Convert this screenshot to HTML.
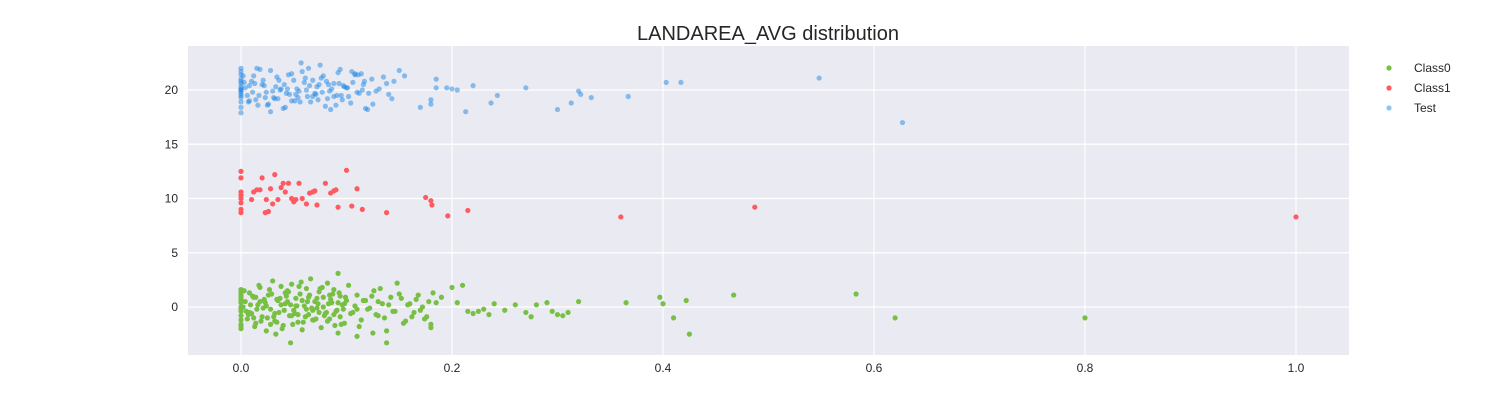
<!DOCTYPE html>
<html><head><meta charset="utf-8"><style>
body{margin:0;background:#fff;font-family:"Liberation Sans",sans-serif}
svg text{font-family:"Liberation Sans",sans-serif}
</style></head><body>
<svg id="c" width="1500" height="400">
<rect x="188" y="46" width="1161" height="309" fill="#eaeaf2"/>
<g id="grid"></g><g id="pts"></g><g id="ticks"></g>
<text x="768" y="40" text-anchor="middle" font-size="20" fill="#262626">LANDAREA_AVG distribution</text>
<g>
<circle cx="1389" cy="68" r="2.6" fill="#77c043"/><text x="1414" y="72" font-size="12" fill="#262626">Class0</text>
<circle cx="1389" cy="88" r="2.6" fill="#ff5a5f"/><text x="1414" y="92" font-size="12" fill="#262626">Class1</text>
<circle cx="1389" cy="108" r="2.6" fill="#1e88e5" fill-opacity="0.5"/><text x="1414" y="112" font-size="12" fill="#262626">Test</text>
</g>
</svg>
<script>
const xTicks=[0,0.2,0.4,0.6,0.8,1.0];
const xTickLabels=["0.0","0.2","0.4","0.6","0.8","1.0"];
const yTicks=[0,5,10,15,20];
const yTickLabels=["0","5","10","15","20"];
// Class0 dense cluster: x values and y jitter values (paired by index)
const class0Points=[
[0,-2],[0,-1.6],[0,-1.2],[0,-0.8],[0,-0.4],[0,0],[0,0.4],[0,0.8],[0,1.2],[0,1.6],[0,-1.8],[0,1.4],[0,-0.2],[0,0.6],[0,1],
[0.004,0.5],[0.006,-1.1],[0.008,1.3],[0.01,-0.6],[0.012,0.9],[0.014,-1.5],[0.016,0.2],[0.018,1.8],[0.02,-0.9],[0.022,0.6],
[0.024,-2.2],[0.026,1.1],[0.028,-0.2],[0.03,2.4],[0.032,-1.3],[0.034,0.7],[0.036,-0.5],[0.038,1.9],[0.04,-1.7],[0.042,0.3],
[0.044,1.5],[0.046,-0.8],[0.048,2.1],[0.05,-0.3],[0.052,0.8],[0.054,-1.4],[0.056,1.2],[0.058,-2.1],[0.06,0.1],[0.062,1.7],
[0.064,-0.7],[0.066,2.6],[0.068,-1.2],[0.07,0.5],[0.072,-0.1],[0.074,1.4],[0.076,-1.9],[0.078,0.9],[0.08,-0.6],[0.082,2.2],
[0.084,-1.1],[0.086,0.4],[0.088,1.6],[0.09,-0.4],[0.092,-2.4],[0.094,1],[0.096,0.2],[0.098,-1.5],[0.1,0.6],
[0.005,-0.4],[0.009,0.2],[0.013,-1.8],[0.017,2],[0.021,-0.1],[0.025,-1],[0.029,1.2],[0.033,-2.5],[0.037,0.8],[0.041,-0.3],
[0.045,1.4],[0.049,-1.6],[0.053,0.1],[0.057,2.3],[0.061,-0.9],[0.065,1.1],[0.069,-1.2],[0.073,0.3],[0.077,1.8],[0.081,-0.5],
[0.085,0.7],[0.089,-1.7],[0.093,1.3],[0.097,-0.2],[0.003,1.5],[0.007,-0.7],[0.011,1],[0.015,-0.2],[0.019,-1.3],[0.023,0.4],
[0.027,1.6],[0.031,-0.9],[0.035,0.6],[0.039,-2],[0.043,1],[0.047,0.2],[0.051,-0.6],[0.055,1.9],[0.059,-1.4],[0.063,0.5],
[0.067,-0.1],[0.071,-1.1],[0.075,1.7],[0.079,-0.8],[0.083,0.3],[0.087,1.2],[0.091,-0.3],[0.095,-1.6],[0.099,0.9],
[0.002,0],[0.012,-1],[0.022,0.7],[0.032,-0.6],[0.042,1.3],[0.052,0.1],[0.062,-0.2],[0.072,0.8],[0.082,-1.3],[0.092,0.4],
[0.014,0.9],[0.024,0.1],[0.034,-1.4],[0.044,0.5],[0.054,-0.7],[0.064,0.9],[0.074,-0.5],[0.084,1.1],[0.094,-0.9],
[0.008,-0.5],[0.018,0.5],[0.028,-1.6],[0.038,0.2],[0.048,-0.8],[0.058,0.6],[0.068,-0.3],[0.078,0],[0.088,-0.7],[0.098,0.3],
[0.102,2],[0.106,-0.5],[0.11,1.1],[0.114,-1.2],[0.118,0.6],[0.122,-0.1],[0.126,1.5],[0.13,-0.8],[0.134,0.3],[0.138,-2.2],
[0.142,0.9],[0.146,-0.4],[0.15,1.2],[0.154,-1.5],[0.158,0.2],[0.162,-0.9],[0.166,0.7],[0.17,-0.3],[0.174,-1.1],[0.178,0.5],
[0.182,1.3],[0.104,-0.6],[0.108,0.1],[0.112,-1.8],[0.116,0.6],[0.12,-0.2],[0.124,1],[0.128,-0.7],[0.132,1.7],[0.136,-1],
[0.14,0.2],[0.144,-0.4],[0.148,2.2],[0.152,0.8],[0.156,-1.3],[0.16,0.3],[0.164,-0.5],[0.168,1.1],[0.172,0],[0.176,-0.9],
[0.18,-1.6],[0.185,0.4],[0.19,0.9],[0.11,-0.2],[0.13,0.5],[0.092,3.1],[0.138,-3.3],[0.047,-3.3],[0.11,-2.7],[0.18,-1.9],[0.125,-2.4],
[0.2,1.8],[0.205,0.4],[0.21,2],[0.215,-0.4],[0.22,-0.6],[0.225,-0.4],[0.23,-0.2],[0.235,-0.7],[0.24,0.3],[0.25,-0.3],
[0.26,0.2],[0.27,-0.5],[0.275,-0.9],[0.28,0.2],[0.29,0.4],[0.295,-0.4],[0.3,-0.7],[0.305,-0.8],[0.31,-0.5],[0.32,0.5],
[0.365,0.4],[0.397,0.9],[0.4,0.3],[0.41,-1],[0.425,-2.5],[0.422,0.6],[0.467,1.1],[0.583,1.2],[0.62,-1],[0.8,-1]
];
const class1Points=[
[0,12.5],[0,11.9],[0,10.6],[0,10.3],[0,10],[0,9.6],[0,9],[0,8.7],[0.01,9.9],[0.015,10.8],[0.02,11.9],[0.023,8.7],
[0.028,10.9],[0.03,9.5],[0.032,12.2],[0.035,9.9],[0.038,11],[0.04,11.4],[0.042,10.6],[0.045,11.4],[0.05,9.7],[0.052,9.9],
[0.055,11.4],[0.058,10],[0.062,9.5],[0.065,10.5],[0.068,10.6],[0.07,10.7],[0.072,9.4],[0.08,11.4],[0.085,10.5],[0.088,10.7],
[0.09,10.8],[0.092,9.2],[0.1,12.6],[0.105,9.3],[0.11,10.9],[0.115,9],[0.012,10.6],[0.018,10.8],[0.024,9.9],[0.026,8.8],
[0.048,10],[0.138,8.7],[0.175,10.1],[0.18,9.8],[0.181,9.4],[0.196,8.4],[0.215,8.9],[0.36,8.3],[0.487,9.2],[1.0,8.3]
];
const testPoints=[
[0,17.9],[0,18.4],[0,18.9],[0,19.3],[0,19.7],[0,20],[0,20.3],[0,20.6],[0,21],[0,21.4],[0,21.7],[0,22],[0,19.5],[0,20.8],[0,20.1],[0,19.9],
[0.004,20.2],[0.008,19],[0.012,21.3],[0.016,18.6],[0.02,20.5],[0.024,19.8],[0.028,21.8],[0.032,19.2],[0.036,20.9],[0.04,18.3],
[0.044,20.1],[0.048,21.5],[0.052,19.6],[0.056,18.9],[0.06,20.7],[0.064,22],[0.068,19.4],[0.072,20.3],[0.076,21.1],[0.08,18.5],
[0.084,19.9],[0.088,20.6],[0.092,21.6],[0.096,19.1],[0.1,20.2],[0.104,18.8],[0.108,21.4],[0.112,19.7],[0.116,20.5],[0.12,18.2],
[0.124,21],[0.128,19.9],[0.006,19.5],[0.01,20.8],[0.014,19.1],[0.018,21.9],[0.022,20.4],[0.026,18.7],[0.03,19.9],[0.034,21.2],
[0.038,20.1],[0.042,18.4],[0.046,19.6],[0.05,20.9],[0.054,19.3],[0.058,21.7],[0.062,20],[0.066,18.9],[0.07,19.7],[0.074,20.5],
[0.078,21.3],[0.082,19.2],[0.086,20.1],[0.09,18.6],[0.094,21.9],[0.098,20.3],[0.102,19.4],[0.106,20.7],[0.11,19.8],[0.114,21.5],
[0.118,18.3],[0.002,21.3],[0.011,19.8],[0.021,20.9],[0.031,19.3],[0.041,20.5],[0.051,19],[0.061,21.1],[0.071,19.6],[0.081,20.8],
[0.091,19.5],[0.101,20.2],[0.111,21.4],[0.121,19.7],[0.131,20.1],[0.015,22],[0.025,18.6],[0.035,19.2],[0.045,21.4],[0.055,19.9],
[0.065,20.4],[0.075,22.3],[0.085,18.2],[0.095,19.5],[0.105,21.7],[0.115,20],[0.125,18.7],[0.135,21.2],[0.14,19.6],[0.145,20.8],
[0.15,21.8],[0.155,21.3],[0.008,20.4],[0.028,18],[0.048,19],[0.068,20.9],[0.088,19.4],[0.108,21.5],[0.138,20.6],[0.143,19.2],
[0.017,19.5],[0.037,20],[0.057,22.5],[0.077,19.8],[0.097,20.4],[0.117,20.8],[0.013,20.6],[0.033,20.3],[0.053,20.1],[0.073,19.1],
[0.093,20.6],[0.043,19.7],[0.063,19.4],[0.083,20.5],[0.023,19.3],[0.003,20.7],[0.007,18.9],
[0.17,18.4],[0.18,18.7],[0.18,19.1],[0.185,20.2],[0.185,21],[0.195,20.2],[0.2,20.1],[0.205,20],[0.213,18],[0.22,20.4],
[0.237,18.8],[0.243,19.5],[0.27,20.2],[0.3,18.2],[0.313,18.8],[0.32,19.9],[0.322,19.6],[0.332,19.3],[0.367,19.4],[0.403,20.7],
[0.417,20.7],[0.548,21.1],[0.627,17]
];
const L=188,R=1349,T=46,B=355;
function xs(v){return 241+v*1055;}
function ys(v){return 307-v*10.85;}
const NS='http://www.w3.org/2000/svg';
const grid=document.getElementById('grid'),tk=document.getElementById('ticks'),pts=document.getElementById('pts');
function mk(tag,at,par){const e=document.createElementNS(NS,tag);for(const k in at)e.setAttribute(k,at[k]);par.appendChild(e);return e;}
xTicks.forEach((v,i)=>{
 const l=mk('line',{x1:xs(v),x2:xs(v),y1:T,y2:B,stroke:'#fff','stroke-width':1.2},grid);
 
 
 const t=mk('text',{x:xs(v),y:B+17,'text-anchor':'middle','font-size':12,fill:'#262626'},tk);
 t.textContent=xTickLabels[i];
 
 
});
yTicks.forEach((v,i)=>{
 const l=mk('line',{x1:L,x2:R,y1:ys(v),y2:ys(v),stroke:'#fff','stroke-width':1.2},grid);
 
 
 const t=mk('text',{x:L-10,y:ys(v)+4,'text-anchor':'end','font-size':12,fill:'#262626'},tk);
 t.textContent=yTickLabels[i];
 
 
});
function series(P,col,op,name){
 P.forEach(p=>{
  const c=mk('circle',{cx:xs(p[0]),cy:ys(p[1]),r:2.6,fill:col,'fill-opacity':op},pts);
  
  
 });
}
series(class0Points,'#77c043',1,'class0-point');
series(class1Points,'#ff5a5f',1,'class1-point');
series(testPoints,'#1e88e5',0.5,'test-point');
</script>
</body></html>
